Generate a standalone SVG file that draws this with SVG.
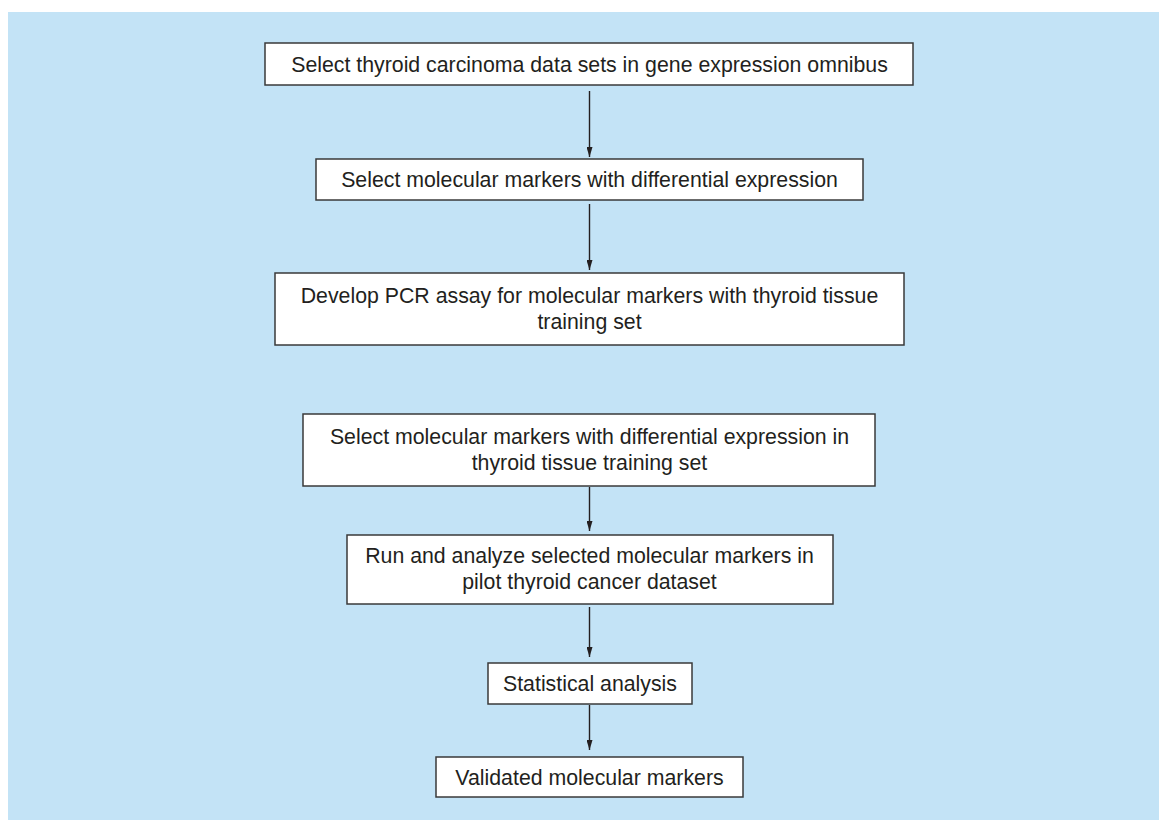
<svg xmlns="http://www.w3.org/2000/svg" width="1159" height="820" viewBox="0 0 1159 820">
<style>
.box{fill:#ffffff;stroke:#3a3a3a;stroke-width:1.5}
.lbl{font-family:"Liberation Sans",Arial,sans-serif;font-size:21.3px;fill:#231f20;text-anchor:middle}
.conn{stroke:#231f20;stroke-width:1.4;fill:none;marker-end:url(#ah)}
</style>
<defs>
<marker id="ah" viewBox="0 0 10 10" refX="10" refY="5" markerWidth="10" markerHeight="6" markerUnits="userSpaceOnUse" orient="auto" preserveAspectRatio="none">
<path d="M0,0 L10,5 L0,10 Z" fill="#231f20"/>
</marker>
</defs>
<rect x="0" y="0" width="1159" height="820" fill="#ffffff"/>
<rect x="8" y="12" width="1151" height="808" fill="#c3e3f6"/>
<g id="connectors">
<line class="conn" x1="589.5" y1="91" x2="589.5" y2="157"/>
<line class="conn" x1="589.5" y1="204" x2="589.5" y2="270"/>
<line class="conn" x1="589.5" y1="487" x2="589.5" y2="531"/>
<line class="conn" x1="589.5" y1="607" x2="589.5" y2="657"/>
<line class="conn" x1="589.5" y1="705" x2="589.5" y2="750"/>
</g>
<g id="n1">
<rect class="box" x="265" y="43" width="648" height="42"/>
<text class="lbl" x="589.5" y="72">Select thyroid carcinoma data sets in gene expression omnibus</text>
</g>
<g id="n2">
<rect class="box" x="316" y="159" width="547" height="41"/>
<text class="lbl" x="589.5" y="187">Select molecular markers with differential expression</text>
</g>
<g id="n3">
<rect class="box" x="275" y="273" width="629" height="72"/>
<text class="lbl" x="589.5" y="303">Develop PCR assay for molecular markers with thyroid tissue</text>
<text class="lbl" x="589.5" y="329">training set</text>
</g>
<g id="n4">
<rect class="box" x="303" y="414" width="572" height="72"/>
<text class="lbl" x="589.5" y="444">Select molecular markers with differential expression in</text>
<text class="lbl" x="589.5" y="470">thyroid tissue training set</text>
</g>
<g id="n5">
<rect class="box" x="347" y="535" width="486" height="69"/>
<text class="lbl" x="589.5" y="563">Run and analyze selected molecular markers in</text>
<text class="lbl" x="589.5" y="589">pilot thyroid cancer dataset</text>
</g>
<g id="n6">
<rect class="box" x="488" y="663" width="204" height="41"/>
<text class="lbl" x="590" y="691">Statistical analysis</text>
</g>
<g id="n7">
<rect class="box" x="436" y="757" width="307" height="40"/>
<text class="lbl" x="589.5" y="785">Validated molecular markers</text>
</g>
</svg>
